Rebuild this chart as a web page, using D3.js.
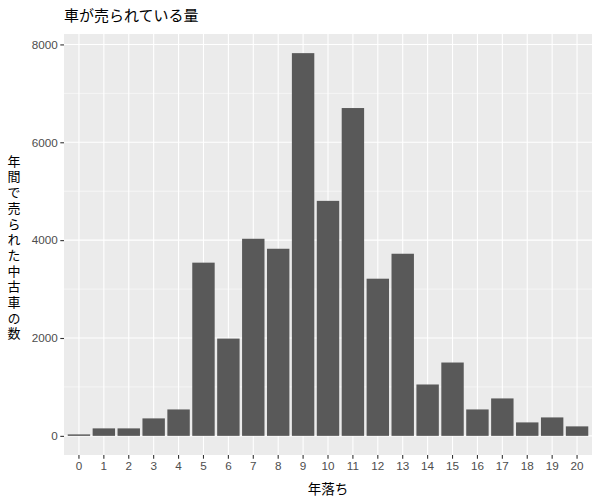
<!DOCTYPE html>
<html>
<head>
<meta charset="utf-8">
<script src="https://cdn.jsdelivr.net/npm/d3@7"></script>
<style>
  body { margin: 0; background: #fff; }
  text { font-family: "Liberation Sans", Arial, sans-serif; }
  .jp { font-family: "Noto Sans CJK JP", sans-serif; }
</style>
</head>
<body>
<div id="chart"></div>
<script>
// data
const ages = ["0","1","2","3","4","5","6","7","8","9","10","11","12","13","14","15","16","17","18","19","20"];
const sold = [30, 153, 153, 357, 540, 3540, 1988, 4028, 3824, 7822, 4803, 6700, 3212, 3722, 1050, 1499, 540, 765, 275, 377, 194];
const yTicks = [0, 2000, 4000, 6000, 8000];
const yMinor = [1000, 3000, 5000, 7000];
const title = "車が売られている量";
const xTitle = "年落ち";
const yTitle = "年間で売られた中古車の数";

const width = 600, height = 500;
const margin = {top: 34, right: 8, bottom: 45, left: 64};

const svg = d3.select('#chart').append('svg')
    .attr('width', width)
    .attr('height', height);

// discrete scale with 0.6 step of space at each end, bars 0.9 wide
const x = d3.scaleBand()
    .domain(ages)
    .range([margin.left, width - margin.right])
    .paddingInner(0.1)
    .paddingOuter(0.15);

// ggplot style 5% expansion
const yMax = d3.max(sold);
const y = d3.scaleLinear()
    .domain([-yMax * 0.05, yMax * 1.05])
    .range([height - margin.bottom, margin.top]);

// panel
svg.append('rect')
    .attr('x', margin.left)
    .attr('y', margin.top)
    .attr('width', width - margin.right - margin.left)
    .attr('height', height - margin.bottom - margin.top)
    .attr('fill', '#EBEBEB');

// grid lines
svg.selectAll('.minor')
    .data(yMinor)
    .enter()
    .append('line')
    .attr('x1', margin.left)
    .attr('x2', width - margin.right)
    .attr('y1', d => y(d))
    .attr('y2', d => y(d))
    .attr('stroke', '#fff')
    .attr('stroke-width', 0.55);

svg.selectAll('.major-y')
    .data(yTicks)
    .enter()
    .append('line')
    .attr('x1', margin.left)
    .attr('x2', width - margin.right)
    .attr('y1', d => y(d))
    .attr('y2', d => y(d))
    .attr('stroke', '#fff')
    .attr('stroke-width', 1.1);

svg.selectAll('.major-x')
    .data(ages)
    .enter()
    .append('line')
    .attr('x1', d => x(d) + x.bandwidth() / 2)
    .attr('x2', d => x(d) + x.bandwidth() / 2)
    .attr('y1', margin.top)
    .attr('y2', height - margin.bottom)
    .attr('stroke', '#fff')
    .attr('stroke-width', 1.1);

// bars
svg.selectAll('.bar')
    .data(ages)
    .enter()
    .append('rect')
    .attr('x', d => x(d))
    .attr('width', x.bandwidth())
    .attr('y', (d, i) => y(sold[i]))
    .attr('height', (d, i) => y(0) - y(sold[i]))
    .attr('fill', '#595959');

// axes
const xAxis = svg.append('g')
    .attr('transform', `translate(0,${height - margin.bottom})`)
    .call(d3.axisBottom(x).tickSize(3.7).tickPadding(2.5));

const yAxis = svg.append('g')
    .attr('transform', `translate(${margin.left},0)`)
    .call(d3.axisLeft(y).tickValues(yTicks).tickSize(3.7).tickPadding(2.5).tickFormat(d3.format('d')));

[xAxis, yAxis].forEach(g => {
    g.select('.domain').remove();
    g.selectAll('.tick line').attr('stroke', '#333333').attr('stroke-width', 1.1);
    g.selectAll('.tick text')
        .attr('fill', '#4D4D4D')
        .attr('font-size', '11.7px')
        .attr('font-family', '"Liberation Sans", Arial, sans-serif');
});

// title
svg.append('text')
    .attr('class', 'jp')
    .attr('x', margin.left)
    .attr('y', 21)
    .attr('font-size', '15px')
    .attr('fill', '#000')
    .text(title);

// x axis title
svg.append('text')
    .attr('class', 'jp')
    .attr('x', (margin.left + width - margin.right) / 2)
    .attr('y', 494)
    .attr('text-anchor', 'middle')
    .attr('font-size', '13.5px')
    .attr('fill', '#000')
    .text(xTitle);

// y axis title, written top to bottom
svg.append('text')
    .attr('class', 'jp')
    .attr('x', 14)
    .attr('y', (margin.top + height - margin.bottom) / 2 + 4)
    .attr('text-anchor', 'middle')
    .style('writing-mode', 'vertical-rl')
    .style('letter-spacing', '2.7px')
    .attr('font-size', '13px')
    .attr('fill', '#000')
    .text(yTitle);
</script>
</body>
</html>
